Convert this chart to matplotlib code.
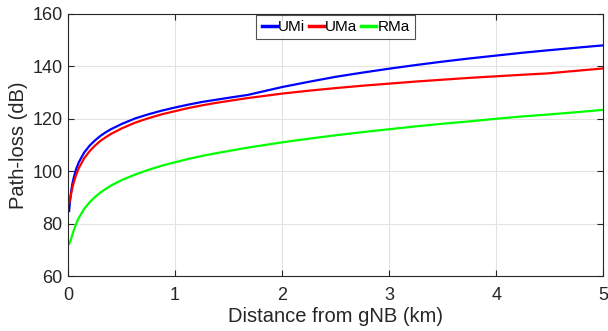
import matplotlib
matplotlib.use('Agg')
import matplotlib.pyplot as plt

plt.rcParams['font.family'] = ['Liberation Sans', 'DejaVu Sans']

# distance from gNB (km) and path loss (dB)
distance = [0.01, 0.015, 0.02, 0.03, 0.04, 0.05, 0.075, 0.1, 0.15, 0.2, 0.25, 0.3, 0.35, 0.4,
            0.5, 0.625, 0.75, 0.875, 1.0, 1.125, 1.25, 1.375, 1.5, 1.68, 2.0, 2.25, 2.5,
            2.75, 3.0, 3.25, 3.5, 3.75, 4.0, 4.25, 4.48, 4.75, 5.0]
pl_umi = [84.8, 87.3, 89.4, 92.7, 95.2, 97.1, 100.8, 103.4, 107.1, 109.7, 111.7, 113.4, 114.8,
          116.0, 118.0, 120.1, 121.7, 123.1, 124.3, 125.4, 126.4, 127.2, 128.0, 129.1, 132.1,
          134.1, 136.0, 137.6, 139.1, 140.5, 141.8, 143.0, 144.1, 145.2, 146.1, 147.1, 148.0]
pl_uma = [87.9, 88.7, 89.7, 91.7, 93.6, 95.3, 98.6, 101.2, 104.9, 107.6, 109.7, 111.5, 112.9,
          114.2, 116.3, 118.5, 120.2, 121.7, 122.9, 124.1, 125.1, 126.0, 126.8, 127.9, 129.6,
          130.7, 131.7, 132.6, 133.4, 134.2, 134.9, 135.6, 136.2, 136.8, 137.3, 138.3, 139.2]
pl_rma = [72.3, 72.7, 73.2, 74.5, 75.8, 77.1, 79.9, 82.2, 85.6, 88.1, 90.1, 91.8, 93.2,
          94.5, 96.6, 98.7, 100.5, 102.1, 103.4, 104.7, 105.8, 106.8, 107.7, 109.0, 111.0,
          112.4, 113.7, 114.9, 116.0, 117.1, 118.1, 119.0, 120.0, 120.9, 121.6, 122.5, 123.4]

fig = plt.figure(figsize=(6.08, 3.31), dpi=100)
ax = fig.add_axes([0.112, 0.166, 0.88, 0.792])

ax.plot(distance, pl_umi, color=(0, 0, 1), lw=1.6, label='UMi')
ax.plot(distance, pl_uma, color=(1, 0, 0), lw=1.6, label='UMa')
ax.plot(distance, pl_rma, color=(0, 1, 0), lw=1.6, label='RMa')

ax.set_xlim(0, 5)
ax.set_ylim(60, 160)
ax.set_xticks([0, 1, 2, 3, 4, 5])
ax.set_yticks([60, 80, 100, 120, 140, 160])
ax.grid(True, color='#e3e3e3', lw=0.8)
ax.set_axisbelow(True)
ax.tick_params(direction='in', top=True, right=True, labelsize=13,
               colors='#262626', length=4)
ax.tick_params(axis='x', pad=8)
ax.tick_params(axis='y', pad=4)
for s in ax.spines.values():
    s.set_color('#262626')
    s.set_linewidth(0.8)

ax.set_xlabel('Distance from gNB (km)', fontsize=14.5, color='#262626', labelpad=2)
ax.set_ylabel('Path-loss (dB)', fontsize=14.5, color='#262626', labelpad=3)

leg = ax.legend(loc='upper center', bbox_to_anchor=(0.5, 1.0), ncol=3, fontsize=11,
                handlelength=1.0, handletextpad=0.1, columnspacing=0.2,
                borderpad=0.35, borderaxespad=0.05, frameon=True, fancybox=False)
leg.get_frame().set_edgecolor('#262626')
leg.get_frame().set_linewidth(0.8)
for line in leg.get_lines():
    line.set_linewidth(2.5)

fig.savefig('out.png', dpi=100)
